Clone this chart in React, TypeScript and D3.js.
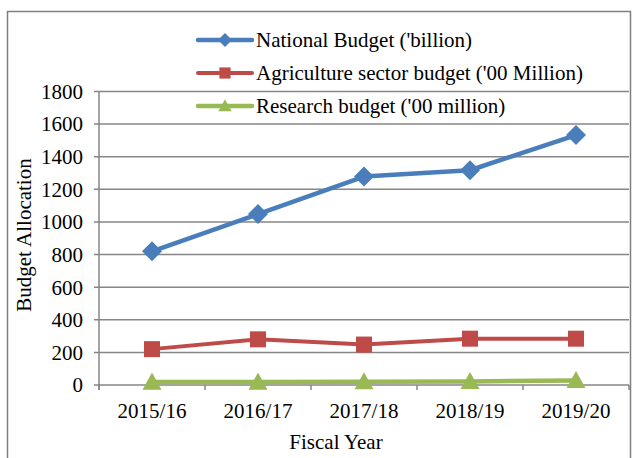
import React from "react";
import * as d3 from "d3";

const categories = ["2015/16", "2016/17", "2017/18", "2018/19", "2019/20"];
const nationalBudget = [820, 1048, 1278, 1317, 1533];
const agricultureBudget = [220, 280, 248, 284, 284];
const researchBudget = [18, 18, 20, 22, 28];
const yTicks = [0, 200, 400, 600, 800, 1000, 1200, 1400, 1600, 1800];
const seriesNames = [
  "National Budget ('billion)",
  "Agriculture sector budget ('00 Million)",
  "Research budget ('00 million)",
];

const W = 634, H = 458;
const left = 99, right = 629, top = 91.5, bottom = 385;
const font = "Liberation Serif, Times New Roman, Tinos, DejaVu Serif, serif";
const fs = 21;

export default function App() {
  const x = d3.scaleBand<string>().domain(categories).range([left, right]);
  const y = d3.scaleLinear().domain([0, 1800]).range([bottom, top]);
  const cx = (c: string) => (x(c) as number) + x.bandwidth() / 2;
  const line = d3.line<number>().x((_, i) => cx(categories[i])).y((d) => y(d));

  const series = [
    { name: seriesNames[0], data: nationalBudget, color: "#4A7EBB", width: 4.5, shape: "diamond" },
    { name: seriesNames[1], data: agricultureBudget, color: "#BE4B48", width: 4, shape: "square" },
    { name: seriesNames[2], data: researchBudget, color: "#98B954", width: 4.5, shape: "triangle" },
  ];

  const marker = (shape: string, px: number, py: number, color: string, key: any, scale = 1) => {
    if (shape === "diamond") {
      const r = 10 * scale;
      return <path key={key} d={`M${px},${py - r}L${px + r},${py}L${px},${py + r}L${px - r},${py}Z`} fill={color} />;
    }
    if (shape === "square") {
      const r = 8 * scale;
      return <rect key={key} x={px - r} y={py - r} width={2 * r} height={2 * r} fill={color} />;
    }
    const r = 9.5 * scale;
    return <path key={key} d={`M${px},${py - r}L${px + r},${py + r * 0.8}L${px - r},${py + r * 0.8}Z`} fill={color} />;
  };

  const gridColor = "#868686";

  return (
    <svg width={W} height={H} style={{ position: "absolute", left: 0, top: 0, background: "#fff" }}>
      <rect x={7.5} y={11.5} width={623} height={460} fill="#fff" stroke="#7f7f7f" strokeWidth={1.5} />
      {yTicks.map((t) => (
        <g key={t}>
          <line x1={left - 5} x2={right} y1={y(t)} y2={y(t)} stroke={gridColor} strokeWidth={1.5} />
          <text x={left - 16} y={y(t)} dy="0.35em" textAnchor="end" fontFamily={font} fontSize={fs} fill="#000">
            {t}
          </text>
        </g>
      ))}
      <line x1={left} x2={left} y1={top} y2={bottom + 5} stroke={gridColor} strokeWidth={1.5} />
      {d3.range(categories.length + 1).map((i) => {
        const xx = left + i * x.bandwidth();
        return <line key={i} x1={xx} x2={xx} y1={bottom} y2={bottom + 5} stroke={gridColor} strokeWidth={1.5} />;
      })}
      {categories.map((c) => (
        <text key={c} x={cx(c)} y={418} textAnchor="middle" fontFamily={font} fontSize={fs} fill="#000">
          {c}
        </text>
      ))}
      <text x={336} y={449} textAnchor="middle" fontFamily={font} fontSize={fs} fill="#000">
        Fiscal Year
      </text>
      <text transform={`translate(31,${235}) rotate(-90)`} textAnchor="middle" fontFamily={font} fontSize={fs} fill="#000">
        Budget Allocation
      </text>
      {series.map((s, si) => (
        <g key={si}>
          <path d={line(s.data) as string} fill="none" stroke={s.color} strokeWidth={s.width} strokeLinejoin="round" />
          {s.data.map((v, i) => marker(s.shape, cx(categories[i]), y(v), s.color, i))}
        </g>
      ))}
      {series.map((s, si) => {
        const ly = 40 + si * 33;
        return (
          <g key={"l" + si}>
            <line x1={198} x2={252} y1={ly} y2={ly} stroke={s.color} strokeWidth={s.width} strokeLinecap="round" />
            {marker(s.shape, 225, ly, s.color, "m", 0.7)}
            <text x={256} y={ly} dy="0.35em" fontFamily={font} fontSize={fs} fill="#000">
              {s.name}
            </text>
          </g>
        );
      })}
    </svg>
  );
}
